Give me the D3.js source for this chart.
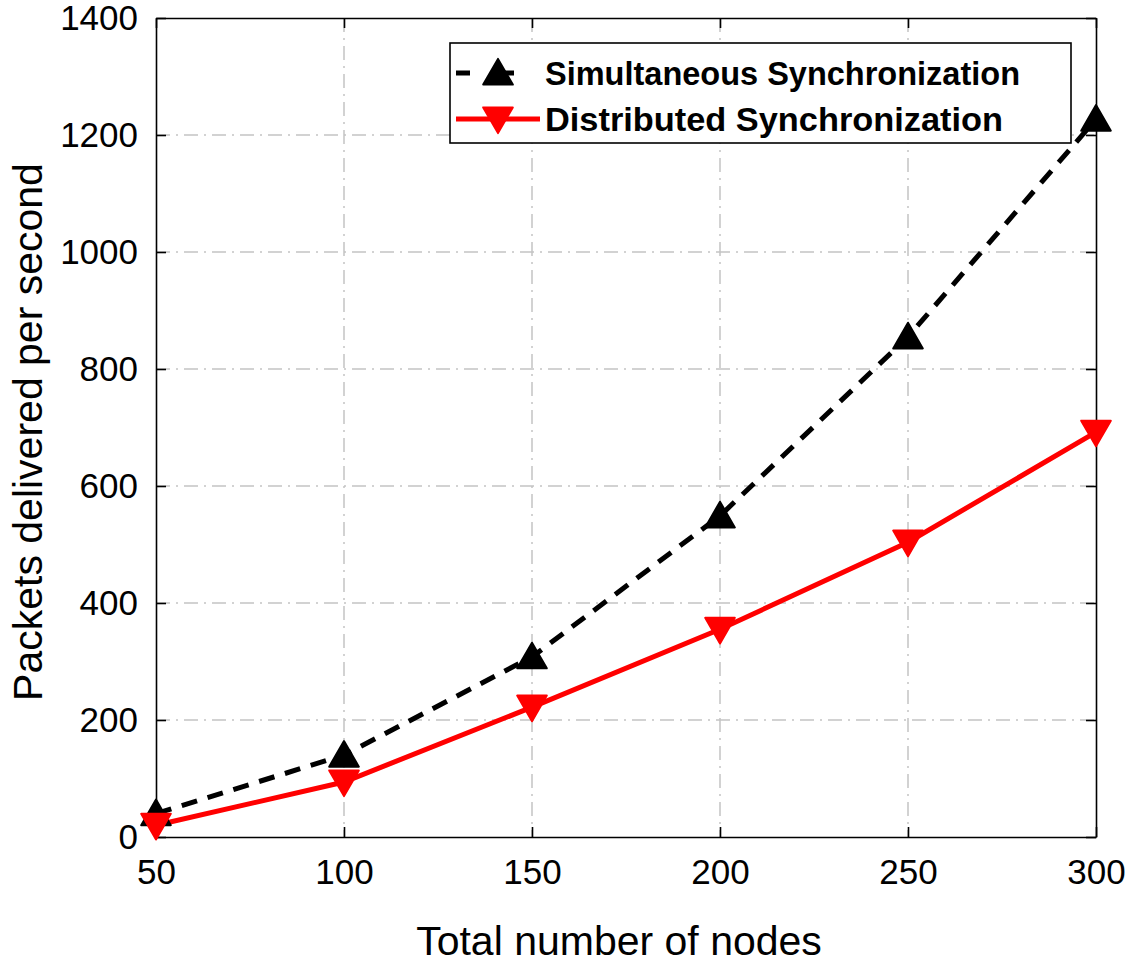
<!DOCTYPE html>
<html>
<head>
<meta charset="utf-8">
<script src="https://cdn.jsdelivr.net/npm/d3@7"></script>
<style>
  body { margin: 0; background: #fff; }
  text { font-family: "Liberation Sans", Arial, sans-serif; fill: #000; }
</style>
</head>
<body>
<svg id="chart" width="1130" height="964"></svg>
<script>
// data
const nodes = [50, 100, 150, 200, 250, 300];
const simultaneous = [40, 140, 308, 549, 855, 1227];
const distributed = [20, 94, 222, 355, 504, 692];
const xTicks = [50, 100, 150, 200, 250, 300];
const yTicks = [0, 200, 400, 600, 800, 1000, 1200, 1400];
const seriesNames = ["Simultaneous Synchronization", "Distributed Synchronization"];

const svg = d3.select("#chart");
const margin = { left: 156, right: 1096, top: 18, bottom: 837 };

const x = d3.scaleLinear().domain([50, 300]).range([margin.left, margin.right]);
const y = d3.scaleLinear().domain([0, 1400]).range([margin.bottom, margin.top]);

// grid lines
const grid = svg.append("g").attr("class", "grid")
  .attr("stroke", "#c4c4c4").attr("stroke-width", 1.5)
  .attr("stroke-dasharray", "14,6,2,6");
grid.selectAll("line.gx").data(xTicks.slice(1, -1)).enter().append("line")
  .attr("x1", d => x(d)).attr("x2", d => x(d))
  .attr("y1", margin.top).attr("y2", margin.bottom);
grid.selectAll("line.gy").data(yTicks.slice(1, -1)).enter().append("line")
  .attr("y1", d => y(d)).attr("y2", d => y(d))
  .attr("x1", margin.left).attr("x2", margin.right);

// axes (ticks inward, mirrored on the box)
const tickLen = 10;
const fmt = d3.format("d");
const xAxis = d3.axisBottom(x).tickValues(xTicks).tickFormat(fmt).tickSizeInner(-tickLen).tickSizeOuter(0).tickPadding(22);
const yAxis = d3.axisLeft(y).tickValues(yTicks).tickFormat(fmt).tickSizeInner(-tickLen).tickSizeOuter(0).tickPadding(18);
const xTop = d3.axisTop(x).tickValues(xTicks).tickSizeInner(-tickLen).tickSizeOuter(0).tickFormat("");
const yRight = d3.axisRight(y).tickValues(yTicks).tickSizeInner(-tickLen).tickSizeOuter(0).tickFormat("");

function styleAxis(g) {
  g.selectAll("path").attr("stroke", "#000").attr("stroke-width", 1.6);
  g.selectAll("line").attr("stroke", "#000").attr("stroke-width", 1.6);
  g.selectAll("text").attr("font-size", 35).attr("font-family", "Liberation Sans, Arial, sans-serif").attr("fill", "#000");
}

svg.append("g").attr("transform", `translate(0,${margin.bottom})`).call(xAxis).call(styleAxis);
svg.append("g").attr("transform", `translate(${margin.left},0)`).call(yAxis).call(styleAxis);
svg.append("g").attr("transform", `translate(0,${margin.top})`).call(xTop).call(styleAxis);
svg.append("g").attr("transform", `translate(${margin.right},0)`).call(yRight).call(styleAxis);

// axis labels
svg.append("text")
  .attr("x", 619).attr("y", 955)
  .attr("text-anchor", "middle").attr("font-size", 41)
  .text("Total number of nodes");
svg.append("text")
  .attr("transform", "translate(42,432) rotate(-90)")
  .attr("text-anchor", "middle").attr("font-size", 41)
  .text("Packets delivered per second");

// series
const line = d3.line().x((d, i) => x(nodes[i])).y(d => y(d));
const tri = d3.symbol().type(d3.symbolTriangle).size(380);

svg.append("path").datum(simultaneous)
  .attr("fill", "none").attr("stroke", "#000").attr("stroke-width", 5)
  .attr("stroke-dasharray", "16,11")
  .attr("d", line);
svg.append("path").datum(distributed)
  .attr("fill", "none").attr("stroke", "#ff0000").attr("stroke-width", 5)
  .attr("d", line);

svg.append("g").selectAll("path").data(simultaneous).enter().append("path")
  .attr("d", tri)
  .attr("fill", "#000").attr("stroke", "#000").attr("stroke-width", 2).attr("stroke-linejoin", "round")
  .attr("transform", (d, i) => `translate(${x(nodes[i])},${y(d) + 3})`);
svg.append("g").selectAll("path").data(distributed).enter().append("path")
  .attr("d", tri)
  .attr("fill", "#ff0000").attr("stroke", "#ff0000").attr("stroke-width", 2).attr("stroke-linejoin", "round")
  .attr("transform", (d, i) => `translate(${x(nodes[i])},${y(d) - 3}) rotate(180)`);

// legend
const lg = svg.append("g").attr("transform", "translate(450,43)");
lg.append("rect").attr("width", 621).attr("height", 100)
  .attr("fill", "#fff").attr("stroke", "#000").attr("stroke-width", 1.6);
const rows = [
  { name: seriesNames[0], color: "#000", dash: "14,30", up: true, textLen: 475 },
  { name: seriesNames[1], color: "#ff0000", dash: null, up: false, textLen: 458 }
];
rows.forEach((r, i) => {
  const cy = 30 + i * 46;
  const ln = lg.append("line").attr("x1", 6).attr("x2", 90).attr("y1", cy).attr("y2", cy)
    .attr("stroke", r.color).attr("stroke-width", 5);
  if (r.dash) ln.attr("stroke-dasharray", r.dash);
  lg.append("path").attr("d", tri)
    .attr("fill", r.color).attr("stroke", r.color).attr("stroke-width", 2).attr("stroke-linejoin", "round")
    .attr("transform", r.up ? `translate(48,${cy + 3})` : `translate(48,${cy - 3}) rotate(180)`);
  lg.append("text").attr("x", 95).attr("y", cy + 12)
    .attr("font-size", 33).attr("font-weight", "bold")
    .attr("textLength", r.textLen).attr("lengthAdjust", "spacingAndGlyphs")
    .text(r.name);
});
</script>
</body>
</html>
